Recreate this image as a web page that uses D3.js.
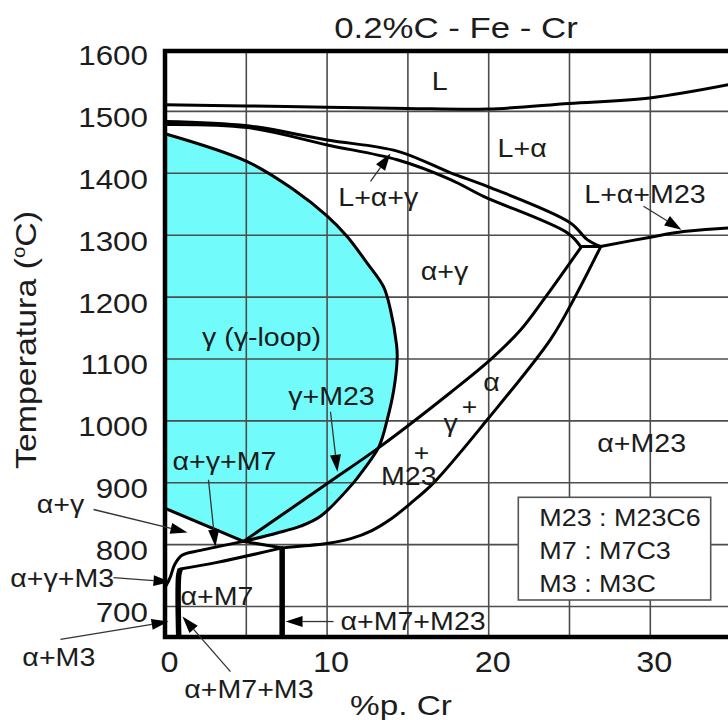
<!DOCTYPE html>
<html>
<head>
<meta charset="utf-8">
<script src="https://cdn.jsdelivr.net/npm/d3@7"></script>
<style>
  body { margin: 0; background: #fff; }
  text { font-family: "Liberation Sans", Arial, sans-serif; fill: #1c1c1c; }
</style>
</head>
<body>
<svg id="chart" width="728" height="720"></svg>
<script>
// ---- Axis ticks and grid ----
const crTicks = [0, 10, 20, 30];
const tempTicks = [700, 800, 900, 1000, 1100, 1200, 1300, 1400, 1500, 1600];
const crGrid = [5, 10, 15, 20, 25, 30, 35];
const tempGrid = [700, 800, 900, 1000, 1100, 1200, 1300, 1400, 1500];

// ---- Phase boundaries, [%Cr, °C] ----
const liquidus = [[0, 1510], [5, 1508], [10, 1506], [15, 1504], [20, 1503], [25, 1512], [30, 1521], [35, 1543]];
const solidusUpper = [[0, 1483], [5.09, 1476], [10.04, 1453], [14.37, 1435], [17.67, 1400], [19.94, 1378], [25.09, 1319], [26.13, 1292], [26.95, 1281]];
const solidusLower = [[0, 1478], [5.09, 1473], [10.04, 1445], [14.37, 1421], [17.67, 1389], [19.71, 1362], [24.89, 1303], [25.71, 1281]];
const peritecticTie = [[25.71, 1281], [26.95, 1281]];
const m23Liquid = [[26.95, 1281], [30.04, 1296], [32.09, 1305], [34.87, 1311], [35, 1311]];
const lineGammaM23 = [[25.75, 1280], [23.43, 1195], [22.0, 1146], [20.14, 1098], [17.67, 1045], [13.34, 958], [10.04, 898], [4.86, 804.5]];
const lineAlphaM23 = [[26.95, 1280], [25.28, 1195], [23.86, 1131], [19.94, 1001], [16.62, 899], [15.2, 866], [14.0, 841], [12.8, 822], [11.5, 809], [10.0, 801], [8.5, 797], [7.25, 794]];
const lineM7Top = [[7.25, 794], [3.23, 770.6], [0.95, 760]];
const eutectoidTie = [[4.86, 804.5], [7.25, 794]];
const lineAlphaGammaM7 = [[0, 730], [0.3, 745], [0.6, 767], [1.05, 782], [2.2, 790], [4.86, 804.5]];
const gammaLoop = [[0, 1463], [5.09, 1418], [7.95, 1373], [10.04, 1330], [11.27, 1297], [12.51, 1254], [13.52, 1216], [13.95, 1179], [14.33, 1122], [14.37, 1102], [14.16, 1050], [13.75, 1001], [13.25, 958], [12.28, 920], [11.66, 899], [9.62, 845], [8.38, 829], [6.94, 818], [4.86, 804.5]];
const gammaLoopFoot = [[4.86, 804.5], [0, 858]];
const boundaryM7M23 = [[7.25, 650], [7.25, 794]];
const boundaryM3 = [[0.85, 650], [0.85, 750], [0.95, 760]];

// ---- Text ----
const titleText = "0.2%C - Fe - Cr";
const xTitle = "%p. Cr";
const legendRows = ["M23 : M23C6", "M7 : M7C3", "M3 : M3C"];
const regionLabels = [
  { t: "L", cr: 17.0, temp: 1534 },
  { t: "L+α", cr: 22.1, temp: 1426 },
  { t: "L+α+γ", cr: 13.2, temp: 1346 },
  { t: "L+α+M23", cr: 29.7, temp: 1351 },
  { t: "α+γ", cr: 17.3, temp: 1227 },
  { t: "γ (γ-loop)", cr: 5.97, temp: 1120 },
  { t: "γ+M23", cr: 10.3, temp: 1025 },
  { t: "α", cr: 20.2, temp: 1047 },
  { t: "+", cr: 18.84, temp: 1008 },
  { t: "γ", cr: 17.67, temp: 982 },
  { t: "+", cr: 15.87, temp: 935 },
  { t: "M23", cr: 15.09, temp: 896 },
  { t: "α+M23", cr: 29.5, temp: 949 },
  { t: "α+γ+M7", cr: 3.68, temp: 920 },
  { t: "α+γ", cr: -6.47, temp: 851 },
  { t: "α+γ+M3", cr: -6.36, temp: 730 },
  { t: "α+M7", cr: 3.22, temp: 702 },
  { t: "α+M3", cr: -6.57, temp: 603 },
  { t: "α+M7+M3", cr: 5.19, temp: 552 },
  { t: "α+M7+M23", cr: 15.35, temp: 662 }
];
const leaders = [
  { from: [-4.42, 856], to: [1.39, 819] },
  { from: [2.69, 904], to: [3.12, 796] },
  { from: [10.24, 1014], to: [10.67, 917] },
  { from: [12.72, 1386], to: [13.95, 1431] },
  { from: [29.61, 1346], to: [31.96, 1308] },
  { from: [-3.19, 746], to: [0.34, 739] },
  { from: [-6.47, 646], to: [0.22, 675] },
  { from: [4.05, 594], to: [1.08, 683] },
  { from: [10.43, 675], to: [7.46, 675] }
];

// ---- Scales ----
const x = d3.scaleLinear().domain([0, 35]).range([165, 730.6]);
const y = d3.scaleLinear().domain([650, 1600]).range([637, 49]);

const svg = d3.select("#chart");
svg.append("rect").attr("width", 728).attr("height", 720).attr("fill", "#fff");

const smooth = d3.line().x(d => x(d[0])).y(d => y(d[1])).curve(d3.curveCatmullRom.alpha(0.5));
const straight = d3.line().x(d => x(d[0])).y(d => y(d[1]));

// gamma-loop fill
svg.append("path")
  .attr("d", smooth(gammaLoop) + "L" + x(gammaLoopFoot[1][0]) + "," + y(gammaLoopFoot[1][1]) + "Z")
  .attr("fill", "#72fbfb");

// grid
const gridH = y(650) - y(1600);
const gx = svg.append("g").attr("transform", `translate(0,${y(650)})`)
  .call(d3.axisBottom(x).tickValues(crGrid).tickSize(-gridH).tickFormat(""));
gx.select(".domain").remove();
gx.selectAll("line").attr("stroke", "#4d4d4d").attr("stroke-width", 1.6);
const gy = svg.append("g").attr("transform", `translate(${x(0)},0)`)
  .call(d3.axisLeft(y).tickValues(tempGrid).tickSize(-(x(35) - x(0))).tickFormat(""));
gy.select(".domain").remove();
gy.selectAll("line").attr("stroke", "#4d4d4d").attr("stroke-width", 1.6);

// legend box
svg.append("rect").attr("x", 518.3).attr("y", 497.3).attr("width", 192.4).attr("height", 102.7)
  .attr("fill", "#fff").attr("stroke", "#555").attr("stroke-width", 1.6);
legendRows.forEach((r, i) => {
  svg.append("text").attr("transform", `translate(539.3,${525.7 + i * 33}) scale(1.17,1)`)
    .attr("font-size", 23).text(r);
});

// phase boundaries
const curves = [liquidus, solidusUpper, solidusLower, m23Liquid, lineGammaM23, lineAlphaM23, lineM7Top, lineAlphaGammaM7, gammaLoop];
curves.forEach(c => {
  svg.append("path").attr("d", smooth(c)).attr("fill", "none").attr("stroke", "#000")
    .attr("stroke-width", 3).attr("stroke-linejoin", "round").attr("stroke-linecap", "round");
});
[peritecticTie, eutectoidTie, gammaLoopFoot].forEach(c => {
  svg.append("path").attr("d", straight(c)).attr("fill", "none").attr("stroke", "#000")
    .attr("stroke-width", 3).attr("stroke-linecap", "round");
});
[boundaryM7M23, boundaryM3].forEach(c => {
  svg.append("path").attr("d", smooth(c)).attr("fill", "none").attr("stroke", "#000")
    .attr("stroke-width", 5.5).attr("stroke-linecap", "butt");
});

// frame
svg.append("path")
  .attr("d", `M${x(35)},${y(1600) + 2}H${x(0)}V${y(650)}H${x(35)}`)
  .attr("fill", "none").attr("stroke", "#000").attr("stroke-width", 4.5);

// axes labels
const ya = svg.append("g").attr("transform", `translate(${x(0)},0)`)
  .call(d3.axisLeft(y).tickValues(tempTicks).tickFormat(d3.format("d")).tickSize(0).tickPadding(17));
ya.select(".domain").remove();
ya.attr("font-size", null).attr("font-family", null);
ya.selectAll("text").attr("font-size", 28).attr("fill", "#1c1c1c")
  .attr("x", -17 / 1.12).attr("y", 15.5).attr("dy", null).attr("transform", "scale(1.12,1)");

const xa = svg.append("g").attr("transform", `translate(0,${y(650)})`)
  .call(d3.axisBottom(x).tickValues(crTicks).tickFormat(d3.format("d")).tickSize(0));
xa.select(".domain").remove();
xa.attr("font-size", null).attr("font-family", null);
xa.selectAll("text").attr("font-size", 30).attr("fill", "#1c1c1c")
  .attr("y", 35).attr("dy", null).attr("transform", "translate(4,0) scale(1.08,1)");

// titles
svg.append("text").attr("transform", "translate(456,38) scale(1.2,1)")
  .attr("text-anchor", "middle").attr("font-size", 29).text(titleText);
svg.append("text").attr("transform", "translate(401,715) scale(1.19,1)")
  .attr("text-anchor", "middle").attr("font-size", 28).text(xTitle);
const yt = svg.append("text").attr("transform", "translate(36,340) rotate(-90) scale(1.13,1)")
  .attr("text-anchor", "middle").attr("font-size", 30);
yt.append("tspan").text("Temperatura (");
yt.append("tspan").attr("font-size", 18).attr("dy", -11).text("o");
yt.append("tspan").attr("dy", 11).text("C)");

// leader arrows
leaders.forEach(a => {
  const x1 = x(a.from[0]), y1 = y(a.from[1]), x2 = x(a.to[0]), y2 = y(a.to[1]);
  const ang = Math.atan2(y2 - y1, x2 - x1), L = 17, hw = 5.5;
  const bx = x2 - L * Math.cos(ang), by = y2 - L * Math.sin(ang);
  svg.append("line").attr("x1", x1).attr("y1", y1).attr("x2", bx).attr("y2", by)
    .attr("stroke", "#333").attr("stroke-width", 1.3);
  svg.append("path")
    .attr("d", `M${x2},${y2}L${bx - hw * Math.sin(ang)},${by + hw * Math.cos(ang)}L${bx + hw * Math.sin(ang)},${by - hw * Math.cos(ang)}Z`)
    .attr("fill", "#000");
});

// region labels
regionLabels.forEach(l => {
  svg.append("text").attr("transform", `translate(${x(l.cr)},${y(l.temp)}) scale(1.1,1)`)
    .attr("text-anchor", "middle").attr("font-size", l.t === "+" ? 24 : 26).text(l.t);
});
</script>
</body>
</html>
